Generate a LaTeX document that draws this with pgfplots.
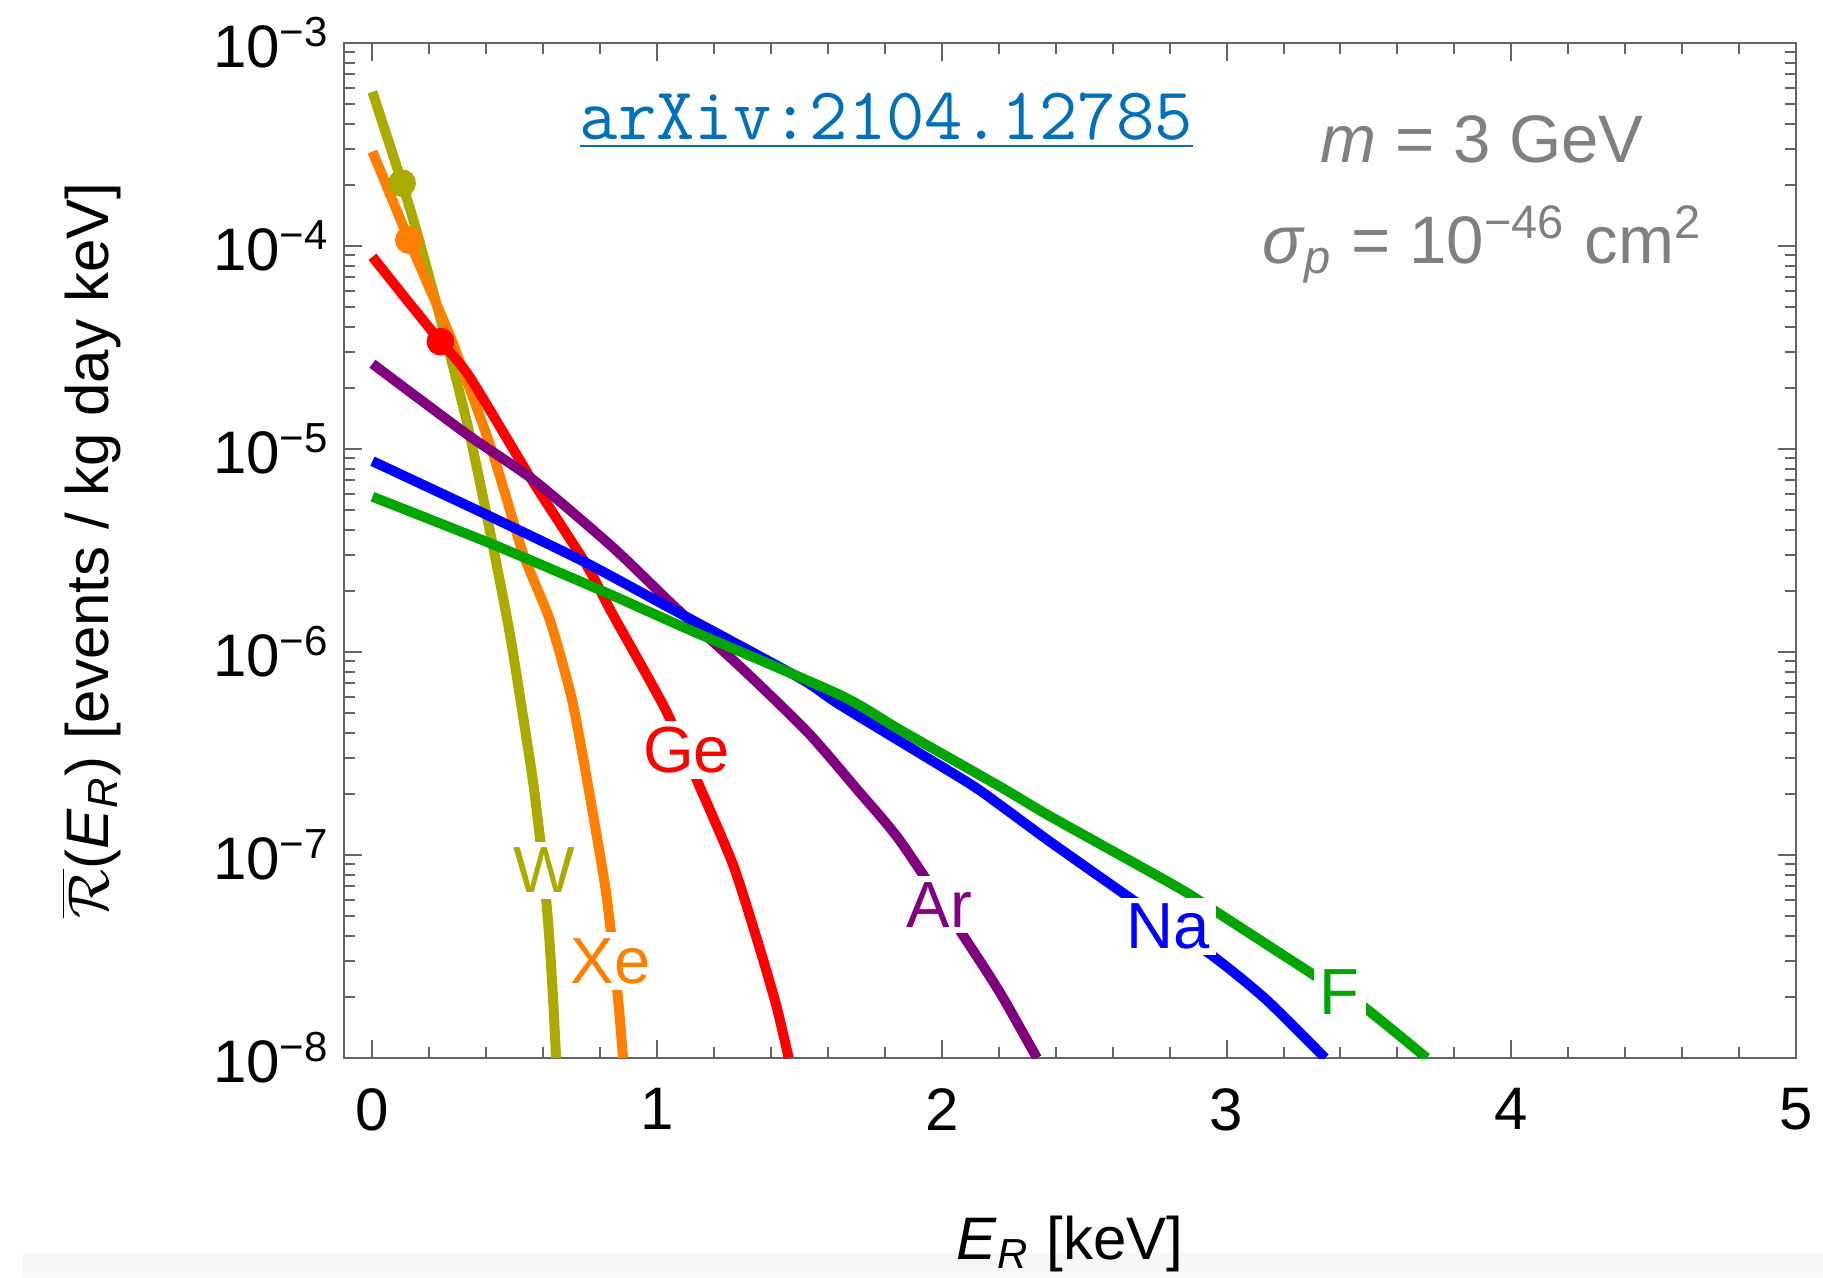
\documentclass[border=0pt]{standalone}
\usepackage{fontspec}
\setmainfont{Liberation Sans}
\usepackage{pgfplots}
\pgfplotsset{compat=1.18}
\usetikzlibrary{backgrounds}

\definecolor{cW}{RGB}{170,170,0}
\definecolor{cXe}{RGB}{255,128,0}
\definecolor{cGe}{RGB}{255,0,0}
\definecolor{cAr}{RGB}{128,0,128}
\definecolor{cNa}{RGB}{0,0,255}
\definecolor{cF}{RGB}{0,165,0}
\definecolor{axgray}{RGB}{100,100,100}
\definecolor{txtgray}{RGB}{128,128,128}
\definecolor{arxivblue}{RGB}{0,112,186}

\begin{document}
\begin{tikzpicture}
\begin{axis}[
    name=ax,
    scale only axis,
    width=363pt, height=253.75pt,
    xmin=-0.1, xmax=5,
    ymode=log, ymin=1e-8, ymax=1e-3,
    xtick={0,1,2,3,4,5},
    xticklabels={0,1,2,3,4,5},
    minor x tick num=4,
    ytick={1e-8,1e-7,1e-6,1e-5,1e-4,1e-3},
    yticklabels={10\textsuperscript{−8},10\textsuperscript{−7},10\textsuperscript{−6},10\textsuperscript{−5},10\textsuperscript{−4},10\textsuperscript{−3}},
    minor ytick={2e-8,3e-8,4e-8,5e-8,6e-8,7e-8,8e-8,9e-8,
                 2e-7,3e-7,4e-7,5e-7,6e-7,7e-7,8e-7,9e-7,
                 2e-6,3e-6,4e-6,5e-6,6e-6,7e-6,8e-6,9e-6,
                 2e-5,3e-5,4e-5,5e-5,6e-5,7e-5,8e-5,9e-5,
                 2e-4,3e-4,4e-4,5e-4,6e-4,7e-4,8e-4,9e-4},
    tick align=inside,
    major tick length=4.5pt, minor tick length=2.8pt,
    axis line style={draw=axgray, line width=0.6pt},
    every tick/.style={axgray, line width=0.5pt},
    ticklabel style={font=\fontsize{15}{18}\selectfont},
    xticklabel style={yshift=-4pt},
    xlabel={\textit{E}\textsubscript{\textit{R}} [keV]},
    ylabel={$\overline{\mathcal{R}}$(\textit{E}\textsubscript{\textit{R}}) [events / kg day keV]},
    xlabel style={at={(axis description cs:0.5,-0.1833)}, anchor=center, font=\fontsize{15}{18}\selectfont},
    ylabel style={at={(axis description cs:-0.1742,0.5)}, anchor=center, font=\fontsize{15}{18}\selectfont},
    every axis plot/.append style={line width=2.5pt, mark=none, smooth, tension=0.4},
]
% W
\addplot[cW] coordinates {(0,5.75e-4) (0.104,2.04e-4) (0.157,1.156e-4) (0.262,3.32e-5) (0.341,1.19e-5) (0.419,3.56e-6) (0.482,1.24e-6) (0.529,4.81e-7) (0.565,2.24e-7) (0.595,1.0e-7) (0.618,4.47e-8) (0.634,2.0e-8) (0.645,1e-8)};
% Xe
\addplot[cXe] coordinates {(0,2.92e-4) (0.128,1.07e-4) (0.186,6.9e-5) (0.278,3.44e-5) (0.419,9.89e-6) (0.529,3.06e-6) (0.623,1.44e-6) (0.701,5.81e-7) (0.764,1.94e-7) (0.822,6.31e-8) (0.862,2.0e-8) (0.88,1e-8)};
% Ge
\addplot[cGe] coordinates {(0,8.85e-5) (0.121,5.42e-5) (0.239,3.38e-5) (0.341,2.27e-5) (0.56,7.03e-6) (0.748,2.74e-6) (0.842,1.55e-6) (1.03,5.18e-7) (1.152,2.13e-7) (1.269,8.77e-8) (1.362,3.40e-8) (1.42,1.78e-8) (1.462,1e-8)};
% Ar
\addplot[cAr] coordinates {(0,2.63e-5) (0.329,1.19e-5) (0.566,7.03e-6) (0.842,3.30e-6) (1.062,1.67e-6) (1.313,7.94e-7) (1.532,3.98e-7) (1.704,2.09e-7) (1.854,1.17e-7) (2.088,3.76e-8) (2.205,2.09e-8) (2.334,1e-8)};
% Na
\addplot[cNa] coordinates {(0,8.71e-6) (0.391,4.82e-6) (0.742,2.79e-6) (1.058,1.61e-6) (1.503,7.41e-7) (1.643,5.48e-7) (2.088,2.29e-7) (2.205,1.76e-7) (2.381,1.16e-7) (2.638,6.47e-8) (2.954,3.16e-8) (3.141,1.93e-8) (3.346,1e-8)};
% F
\addplot[cF] coordinates {(0,5.82e-6) (0.414,3.43e-6) (0.80,2.02e-6) (1.117,1.28e-6) (1.643,6.14e-7) (1.854,4.13e-7) (2.205,2.17e-7) (2.381,1.55e-7) (2.825,6.98e-8) (2.954,5.36e-8) (3.317,2.51e-8) (3.481,1.79e-8) (3.703,1e-8)};

% threshold dots
\addplot[cW, only marks, mark=*, mark size=2.2pt] coordinates {(0.104,2.04e-4)};
\addplot[cXe, only marks, mark=*, mark size=2.2pt] coordinates {(0.128,1.07e-4)};
\addplot[cGe, only marks, mark=*, mark size=2.2pt] coordinates {(0.239,3.38e-5)};

% curve labels
\begin{scope}[every node/.style={fill=white, inner sep=1.5pt, font=\fontsize{16.3}{19}\selectfont}]
\node[text=cW]  at (axis cs:0.604,8.4e-8) {W};
\node[text=cXe] at (axis cs:0.836,3.0e-8) {Xe};
\node[text=cGe] at (axis cs:1.103,3.3e-7) {Ge};
\node[text=cAr] at (axis cs:1.991,5.7e-8) {Ar};
\node[text=cNa] at (axis cs:2.796,4.45e-8) {Na};
\node[text=cF]  at (axis cs:3.397,2.12e-8) {F};
\end{scope}

\node[text=txtgray, font=\fontsize{16.8}{20}\selectfont] at (axis cs:3.898,3.35e-4) {\textit{m} = 3 GeV};
\node[text=txtgray, font=\fontsize{16.8}{20}\selectfont] at (axis cs:3.898,1.02e-4) {\textit{σ}\textsubscript{\textit{p}} = 10\textsuperscript{−46} cm\textsuperscript{2}};
\node[text=arxivblue, font=\fontsize{18.6}{22}\ttfamily] at (axis cs:1.805,4.15e-4) {\underline{arXiv:2104.12785}};
\end{axis}
\begin{pgfonlayer}{background}
\fill[black!3] ([shift={(-80.25pt,-54.75pt)}]ax.south west) rectangle ([shift={(6.75pt,-48.75pt)}]ax.south east);
\end{pgfonlayer}
\pgfresetboundingbox
\path[use as bounding box] ([shift={(-86pt,-54.75pt)}]ax.south west) rectangle ([shift={(6.75pt,10.75pt)}]ax.north east);
\end{tikzpicture}
\end{document}
